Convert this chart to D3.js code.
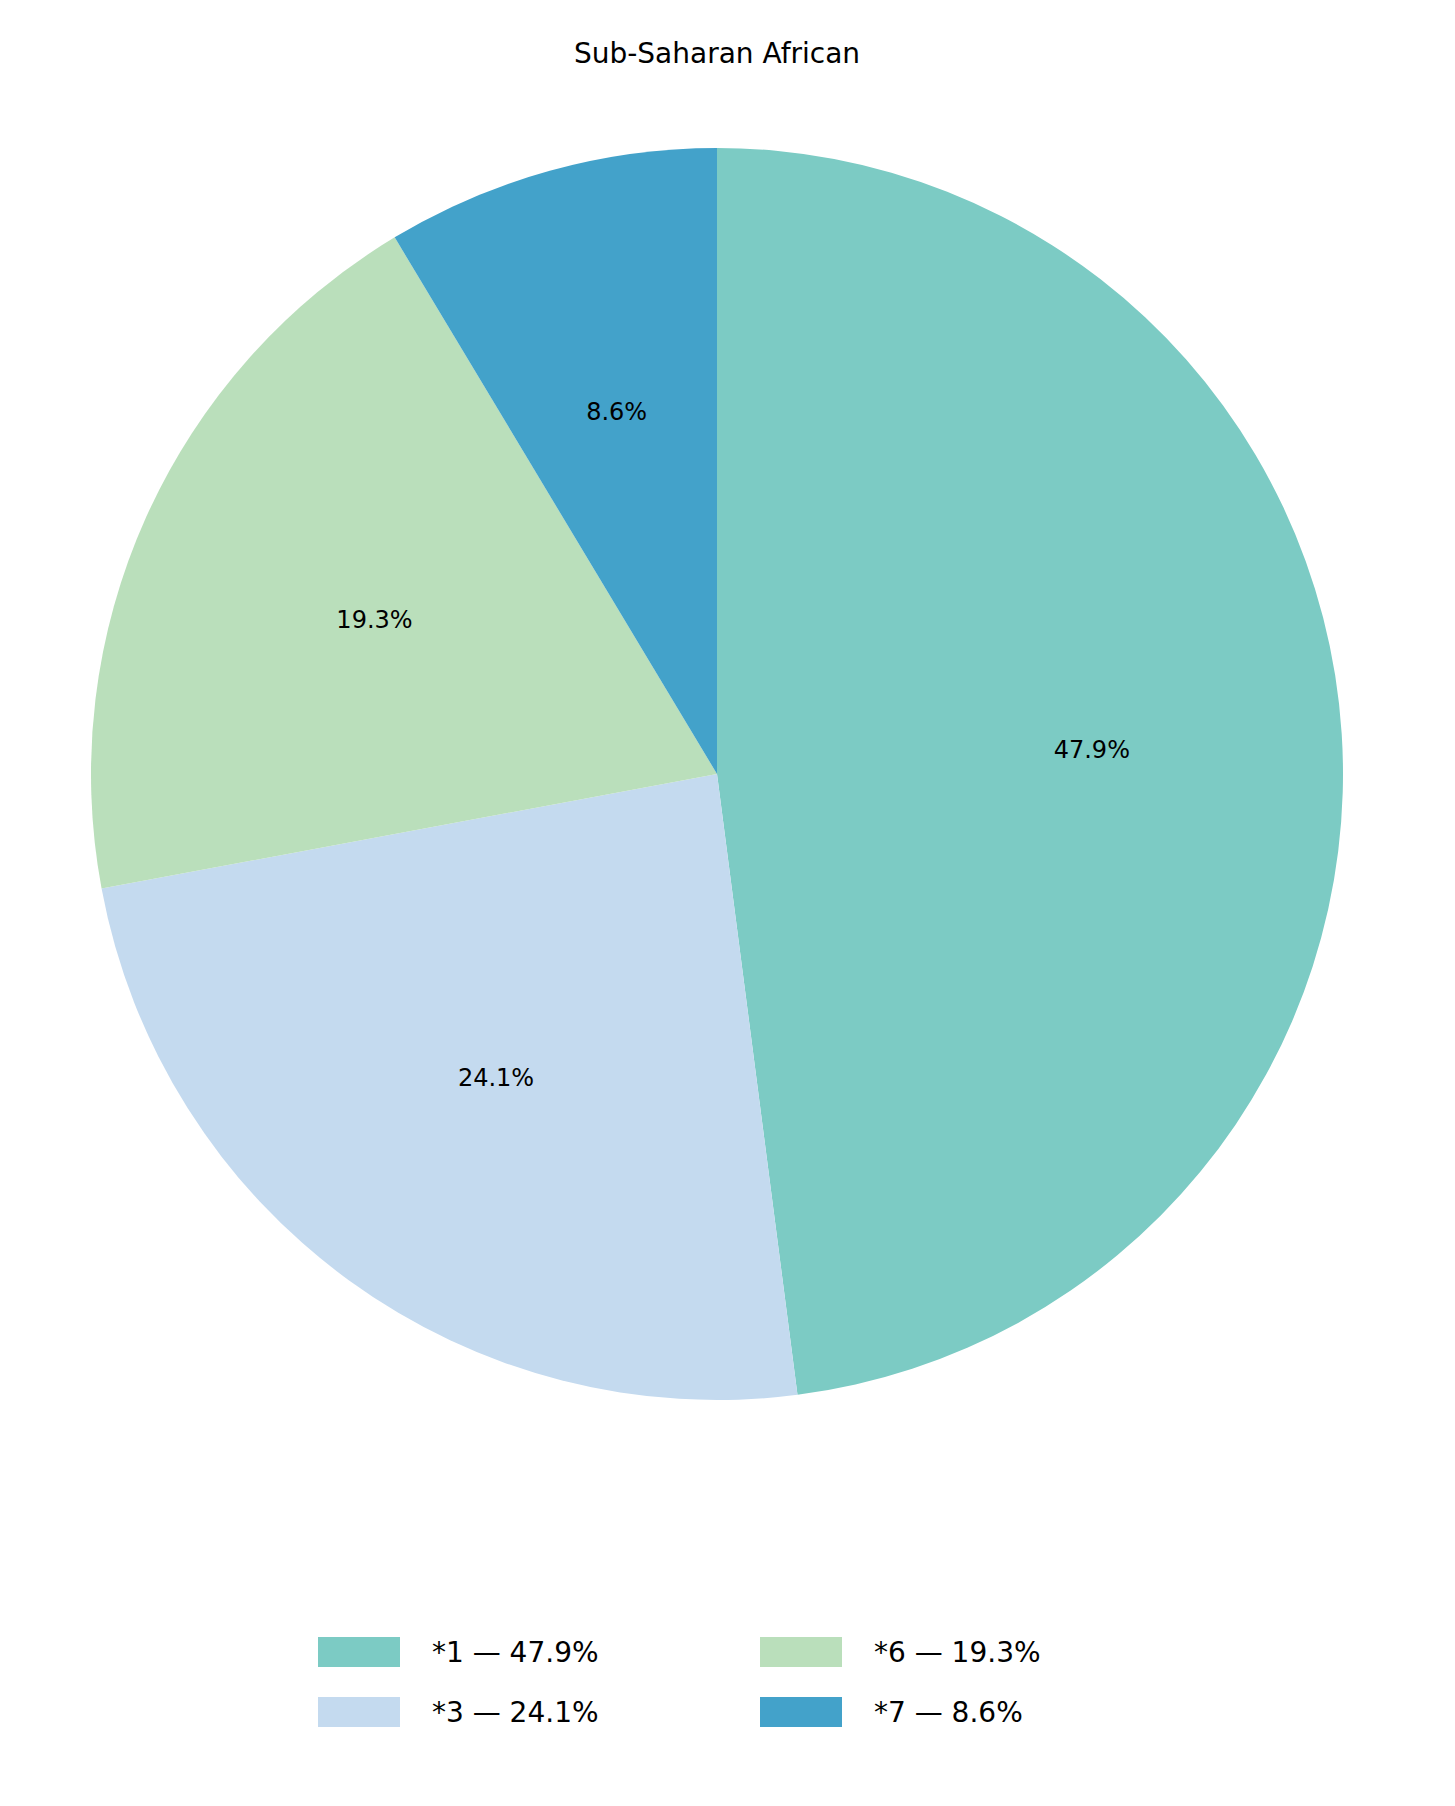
<!DOCTYPE html>
<html>
<head>
<meta charset="utf-8">
<script src="https://cdn.jsdelivr.net/npm/d3@7"></script>
<style>
  body { margin: 0; background: #fff; }
  text { font-family: "DejaVu Sans", sans-serif; }
</style>
</head>
<body>
<svg width="1455" height="1806"></svg>
<script>
const categories = ["*1", "*3", "*6", "*7"];
const values = [47.9, 24.1, 19.3, 8.6];
const colors = ["#7ccbc4", "#c4daef", "#badfbb", "#43a2ca"];

const svg = d3.select("svg");
const cx = 717, cy = 774, radius = 626;

svg.append("text")
  .attr("x", cx).attr("y", 63)
  .attr("text-anchor", "middle")
  .style("font-size", "28px")
  .text("Sub-Saharan African");

const pie = d3.pie().sort(null);
const pieData = pie(values);
const arc = d3.arc().innerRadius(0).outerRadius(radius);
const labelArc = d3.arc().innerRadius(radius * 0.6).outerRadius(radius * 0.6);
const color = d3.scaleOrdinal().domain(d3.range(values.length)).range(colors);

const g = svg.append("g").attr("transform", `translate(${cx}, ${cy})`);

g.selectAll("path")
  .data(pieData)
  .enter()
  .append("path")
  .attr("d", arc)
  .attr("fill", (d, i) => color(i));

g.selectAll("text")
  .data(pieData)
  .enter()
  .append("text")
  .attr("transform", (d) => `translate(${labelArc.centroid(d)})`)
  .attr("text-anchor", "middle")
  .attr("dominant-baseline", "central")
  .style("font-size", "24px")
  .text((d) => d.data.toFixed(1) + "%");

// legend, two columns
const legend = svg.append("g");
const cols = [318, 760], rows = [1652, 1712];
categories.forEach((c, i) => {
  const x = cols[Math.floor(i / 2)], y = rows[i % 2];
  legend.append("rect")
    .attr("x", x).attr("y", y - 15)
    .attr("width", 82).attr("height", 30)
    .attr("fill", color(i));
  legend.append("text")
    .attr("x", x + 114).attr("y", y)
    .attr("dominant-baseline", "central")
    .style("font-size", "28px")
    .text(`${c} — ${values[i].toFixed(1)}%`);
});
</script>
</body>
</html>
